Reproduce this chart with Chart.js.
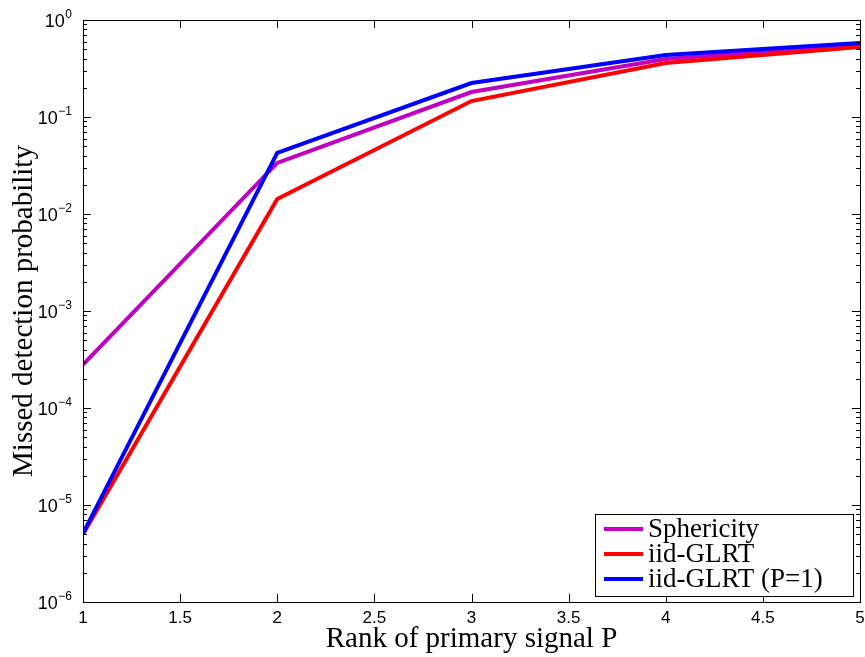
<!DOCTYPE html>
<html>
<head>
<meta charset="utf-8">
<script src="https://cdn.jsdelivr.net/npm/chart.js@4/dist/chart.umd.min.js"></script>
<style>
  html, body { margin: 0; padding: 0; background: #fff; }
  #wrap { width: 865px; height: 657px; }
</style>
</head>
<body>
<div id="wrap"><canvas id="missChart" width="865" height="657"></canvas></div>
<script>
    // values
    const ranks = [1, 2, 3, 4, 5];
    const sphericity = [2.8e-4, 0.0336, 0.181, 0.396, 0.555];
    const iidGlrt = [5.0e-6, 0.0143, 0.146, 0.36, 0.527];
    const iidGlrtP1 = [5.1e-6, 0.0426, 0.224, 0.436, 0.58];

    const seriesNames = ['Sphericity', 'iid-GLRT', 'iid-GLRT (P=1)'];
    const seriesColors = ['#bf00bf', '#ff0000', '#0000ff'];

    const xTicks = [1, 1.5, 2, 2.5, 3, 3.5, 4, 4.5, 5];
    const yTicks = [1e-6, 1e-5, 1e-4, 1e-3, 1e-2, 1e-1, 1];

    function toPoints(ys) {
      return ranks.map((x, i) => ({ x: x, y: ys[i] }));
    }

    const serif = "'Liberation Serif', 'Times New Roman', serif";
    const sans = "'Liberation Sans', Arial, sans-serif";

    // box, inward ticks, 10^n labels and in-plot legend, MATLAB style
    const framePlugin = {
      id: 'frame',
      afterDatasetsDraw(chart) {
        const c = chart.ctx;
        const a = chart.chartArea;
        const xs = chart.scales.x, ys = chart.scales.y;
        c.save();
        c.strokeStyle = '#000';
        c.lineWidth = 1;
        c.beginPath();
        xTicks.forEach(v => {
          const px = Math.round(xs.getPixelForValue(v)) + 0.5;
          c.moveTo(px, a.bottom); c.lineTo(px, a.bottom - 8);
          c.moveTo(px, a.top); c.lineTo(px, a.top + 8);
        });
        for (let e = -6; e <= 0; e++) {
          for (let m = 1; m <= 9; m++) {
            const v = m * Math.pow(10, e);
            if (v > 1) break;
            const len = m === 1 ? 8 : 4;
            const py = Math.round(ys.getPixelForValue(v)) + 0.5;
            c.moveTo(a.left, py); c.lineTo(a.left + len, py);
            c.moveTo(a.right, py); c.lineTo(a.right - len, py);
          }
        }
        c.stroke();
        c.strokeRect(Math.round(a.left) + 0.5, Math.round(a.top) + 0.5,
                     Math.round(a.right - a.left), Math.round(a.bottom - a.top));

        // y tick labels as 10 with a raised exponent
        c.fillStyle = '#000';
        c.textBaseline = 'alphabetic';
        c.textAlign = 'right';
        yTicks.forEach(v => {
          const py = ys.getPixelForValue(v);
          const e = Math.round(Math.log10(v));
          const expText = e < 0 ? '\u2212' + (-e) : String(e);
          const right = a.left - 11;
          c.font = '12px ' + sans;
          const w = c.measureText(expText).width;
          c.fillText(expText, right, py - 2);
          c.font = '18px ' + sans;
          c.fillText('10', right - w - 0.5, py + 7);
        });

        // legend
        const bx = a.right - 265, by = a.bottom - 88, bw = 258, bh = 82;
        c.fillStyle = '#fff';
        c.fillRect(bx, by, bw, bh);
        c.strokeStyle = '#000';
        c.lineWidth = 1;
        c.strokeRect(bx + 0.5, by + 0.5, bw, bh);
        c.font = '27px ' + serif;
        c.textAlign = 'left';
        c.textBaseline = 'middle';
        seriesNames.forEach((name, i) => {
          const ry = by + 15 + i * 25;
          c.strokeStyle = seriesColors[i];
          c.lineWidth = 4;
          c.beginPath();
          c.moveTo(bx + 9, ry); c.lineTo(bx + 48, ry);
          c.stroke();
          c.fillStyle = '#000';
          c.fillText(name, bx + 53, ry + 1);
        });
        c.restore();
      }
    };

    const datasets = [sphericity, iidGlrt, iidGlrtP1].map((ys, i) => ({
      label: seriesNames[i],
      data: toPoints(ys),
      borderColor: seriesColors[i],
      backgroundColor: seriesColors[i],
      borderWidth: 4,
      borderJoinStyle: 'miter',
      pointRadius: 0,
      tension: 0,
      fill: false,
      order: 3 - i // blue on top
    }));

    new Chart(document.getElementById('missChart'), {
      type: 'line',
      data: { datasets: datasets },
      options: {
        responsive: false,
        animation: false,
        layout: { padding: { top: 20, right: 0, left: 0, bottom: 0 } },
        plugins: {
          legend: { display: false },
          tooltip: { enabled: false }
        },
        scales: {
          x: {
            type: 'linear',
            min: 1,
            max: 5,
            afterBuildTicks: s => { s.ticks = xTicks.map(v => ({ value: v })); },
            afterFit: s => { s.height = 55; s.paddingRight = 5; s.paddingLeft = 0; },
            grid: { display: false, drawTicks: false },
            border: { display: false },
            ticks: {
              color: '#000',
              font: { family: sans, size: 17 },
              padding: 6,
              maxRotation: 0,
              callback: v => String(v)
            },
            title: {
              display: true,
              text: 'Rank of primary signal P',
              color: '#000',
              font: { family: serif, size: 29 },
              padding: { top: 0, bottom: 0 }
            }
          },
          y: {
            type: 'logarithmic',
            min: 1e-6,
            max: 1,
            afterBuildTicks: s => { s.ticks = yTicks.map(v => ({ value: v })); },
            afterFit: s => { s.width = 83; s.paddingTop = 0; s.paddingBottom = 0; },
            grid: { display: false, drawTicks: false },
            border: { display: false },
            ticks: { display: false },
            title: {
              display: true,
              text: 'Missed detection probability',
              color: '#000',
              font: { family: serif, size: 29 },
              padding: { top: 7, bottom: 0 }
            }
          }
        }
      },
      plugins: [framePlugin]
    });
</script>
</body>
</html>
